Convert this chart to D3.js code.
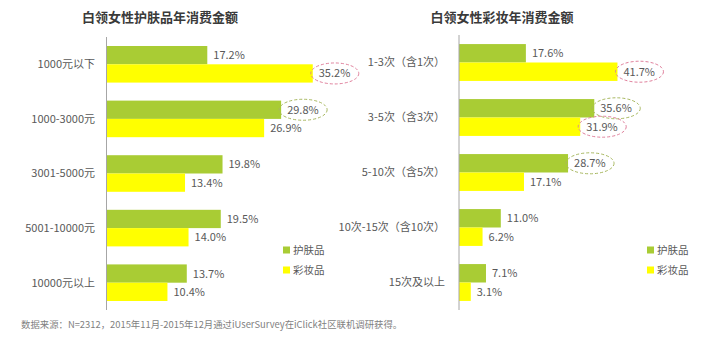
<!DOCTYPE html>
<html><head><meta charset="utf-8">
<script src="https://cdn.jsdelivr.net/npm/d3@7"></script>
<style>
html,body{margin:0;padding:0;background:#fff;}
svg{display:block;font-family:"Noto Sans CJK SC","Noto Sans",sans-serif;}
</style></head>
<body><svg id="c" width="711" height="346"></svg>
<script>
// ---- data ----
const seriesNames = ["护肤品", "彩妆品"];
const leftTitle = "白领女性护肤品年消费金额";
const leftCategories = ["1000元以下", "1000-3000元", "3001-5000元", "5001-10000元", "10000元以上"];
const leftSkin = [17.2, 29.8, 19.8, 19.5, 13.7];
const leftMakeup = [35.2, 26.9, 13.4, 14.0, 10.4];
const leftSkinCircled = [1];
const leftMakeupCircled = [0];

const rightTitle = "白领女性彩妆年消费金额";
const rightCategories = ["1-3次（含1次）", "3-5次（含3次）", "5-10次（含5次）", "10次-15次（含10次）", "15次及以上"];
const rightSkin = [17.6, 35.6, 28.7, 11.0, 7.1];
const rightMakeup = [41.7, 31.9, 17.1, 6.2, 3.1];
const rightSkinCircled = [1, 2];
const rightMakeupCircled = [0, 1];

const footnote = "数据来源：N=2312，2015年11月-2015年12月通过iUserSurvey在iClick社区联机调研获得。";

// ---- drawing ----
const svg = d3.select("#c");
const GREEN = "#a9cc34", YELLOW = "#ffff00";
const TXT = "#595959";

function panel(cfg) {
  const g = svg.append("g");
  const x = d3.scaleLinear().domain([0, cfg.xMax]).range([cfg.x0, cfg.x1]);
  const y = d3.scaleBand().domain(cfg.categories).range([cfg.y0, cfg.y1]).paddingInner(0.33).paddingOuter(0.165);
  const sub = d3.scaleBand().domain([0, 1]).range([0, y.bandwidth()]);
  const series = [cfg.skin, cfg.makeup];
  const colors = [GREEN, YELLOW];

  g.append("text").attr("x", cfg.titleX).attr("y", 22).attr("text-anchor", "middle")
    .attr("font-size", 13).attr("font-weight", "bold").attr("fill", "#3a3a3a").text(cfg.title);

  series.forEach((vals, si) => {
    g.selectAll(null).data(vals).enter().append("rect")
      .attr("x", x(0)).attr("y", (d, i) => y(cfg.categories[i]) + sub(si))
      .attr("width", d => x(d) - x(0)).attr("height", sub.bandwidth())
      .attr("fill", colors[si]);
    g.selectAll(null).data(vals).enter().append("text")
      .attr("x", d => x(d) + 6).attr("y", (d, i) => y(cfg.categories[i]) + sub(si) + sub.bandwidth() / 2)
      .attr("dy", "0.36em").attr("font-size", 11).attr("fill", TXT)
      .text(d => d.toFixed(1) + "%");
  });

  // circled annotations
  const circ = [[cfg.skinCircled, 0, "#a8b860"], [cfg.makeupCircled, 1, "#e0809c"]];
  circ.forEach(([idxs, si, col]) => {
    idxs.forEach(i => {
      const v = series[si][i];
      g.append("ellipse")
        .attr("cx", x(v) + 22).attr("cy", y(cfg.categories[i]) + sub(si) + sub.bandwidth() / 2)
        .attr("rx", 24).attr("ry", 10.5)
        .attr("fill", "none").attr("stroke", col).attr("stroke-width", 1).attr("stroke-dasharray", "3,2");
    });
  });

  // axis line
  g.append("line").attr("x1", x(0)).attr("x2", x(0)).attr("y1", cfg.y0).attr("y2", cfg.y1)
    .attr("stroke", "#a6a6a6").attr("stroke-width", 1);

  // category labels
  g.selectAll(null).data(cfg.categories).enter().append("text")
    .attr("x", cfg.labelX).attr("y", d => y(d) + y.bandwidth() / 2).attr("dy", "0.36em")
    .attr("text-anchor", "end").attr("font-size", 11).attr("fill", TXT).text(d => d);

  // legend
  seriesNames.forEach((n, si) => {
    const ly = 250 + si * 20;
    g.append("rect").attr("x", cfg.legendX).attr("y", ly - 3.5).attr("width", 7).attr("height", 7).attr("fill", colors[si]);
    g.append("text").attr("x", cfg.legendX + 10).attr("y", ly).attr("dy", "0.36em")
      .attr("font-size", 10.5).attr("fill", TXT).text(n);
  });
}

panel({title: leftTitle, titleX: 160, categories: leftCategories, skin: leftSkin, makeup: leftMakeup,
  skinCircled: leftSkinCircled, makeupCircled: leftMakeupCircled,
  xMax: 40, x0: 106.5, x1: 106.5 + 234.4, y0: 37, y1: 310, labelX: 95, legendX: 283});
panel({title: rightTitle, titleX: 502, categories: rightCategories, skin: rightSkin, makeup: rightMakeup,
  skinCircled: rightSkinCircled, makeupCircled: rightMakeupCircled,
  xMax: 50, x0: 459, x1: 459 + 190, y0: 35, y1: 310, labelX: 445, legendX: 647});

svg.append("text").attr("x", 21).attr("y", 328).attr("font-size", 9.4).attr("fill", "#7f7f7f").text(footnote);
</script>
</body></html>
